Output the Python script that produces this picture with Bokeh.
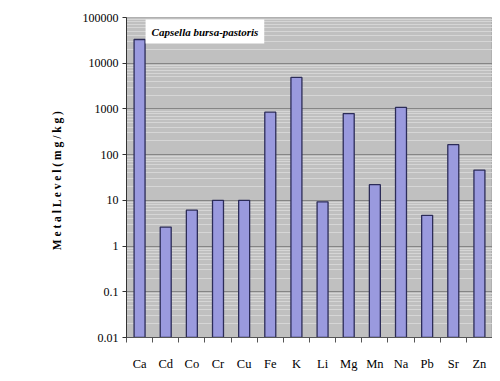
from bokeh.plotting import figure
from bokeh.models import Range1d, FixedTicker, CustomJSTickFormatter, Label
from bokeh.embed import file_html
from bokeh.resources import INLINE

metals = ["Ca", "Cd", "Co", "Cr", "Cu", "Fe", "K", "Li", "Mg", "Mn", "Na", "Pb", "Sr", "Zn"]
levels = [33000, 2.6, 6.1, 10, 10, 850, 4900, 9.3, 790, 22, 1080, 4.7, 165, 46]
y_ticks = [0.01, 0.1, 1, 10, 100, 1000, 10000, 100000]
title_text = "Capsella bursa-pastoris"
y_label = "M e t a l  L e v e l  ( m g / k g )"

FONT = "'Liberation Serif', 'Times New Roman', serif"

p = figure(width=492, height=373, y_axis_type="log",
           x_range=Range1d(0, len(metals)), y_range=Range1d(y_ticks[0], y_ticks[-1]),
           output_backend="svg", toolbar_location=None,
           min_border_left=126, min_border_right=0, min_border_top=17, min_border_bottom=30)

p.background_fill_color = "#c0c0c0"
p.border_fill_color = "white"
p.outline_line_color = "#b0b0b0"

xs = [i + 0.5 for i in range(len(metals))]
p.vbar(x=xs, top=levels, bottom=y_ticks[0], width=0.42,
       fill_color="#9a9ade", line_color="#2c2c58", line_width=1.3)

# y axis
minor = [d * m for d in y_ticks[:-1] for m in range(2, 10)]
p.yaxis.ticker = FixedTicker(ticks=y_ticks, minor_ticks=minor)
p.yaxis.formatter = CustomJSTickFormatter(code="""
const e = Math.round(Math.log10(tick));
return e >= 0 ? String(Math.round(Math.pow(10, e))) : Math.pow(10, e).toFixed(-e);
""")
p.yaxis.minor_tick_line_color = None
p.yaxis.major_tick_out = 4
p.yaxis.major_tick_in = 0
p.yaxis.axis_line_color = "#333333"
p.yaxis.major_tick_line_color = "#333333"
p.yaxis.major_label_text_font = FONT
p.yaxis.major_label_text_font_size = "12px"
p.yaxis.major_label_text_color = "black"
p.yaxis.major_label_standoff = 4
p.yaxis.axis_label = y_label
p.yaxis.axis_label_text_font = FONT
p.yaxis.axis_label_text_font_style = "bold"
p.yaxis.axis_label_text_font_size = "11.5px"
p.yaxis.axis_label_text_color = "black"
p.yaxis.axis_label_standoff = 17

# x axis
p.xaxis.ticker = FixedTicker(ticks=xs, minor_ticks=list(range(len(metals) + 1)))
p.xaxis.major_label_overrides = {x: m for x, m in zip(xs, metals)}
p.xaxis.major_tick_line_color = None
p.xaxis.minor_tick_out = 5
p.xaxis.minor_tick_in = 0
p.xaxis.minor_tick_line_color = "#555555"
p.xaxis.axis_line_color = "#555555"
p.xaxis.major_label_text_font = FONT
p.xaxis.major_label_text_font_size = "12.5px"
p.xaxis.major_label_text_color = "black"
p.xaxis.major_label_standoff = 13

# grids
p.xgrid.grid_line_color = None
p.ygrid.ticker = p.yaxis.ticker
p.ygrid.grid_line_color = "#858585"
p.ygrid.grid_line_width = 1
p.ygrid.minor_grid_line_color = "#d6d6d6"
p.ygrid.minor_grid_line_width = 1

title = Label(x=0.73, y=y_ticks[-1], y_offset=-2, anchor="top_left", text=title_text,
              text_font=FONT, text_font_style="bold italic", text_font_size="11px",
              text_color="black", background_fill_color="white", padding=6)
p.add_layout(title)

open("out.html", "w").write(file_html(p, INLINE))
